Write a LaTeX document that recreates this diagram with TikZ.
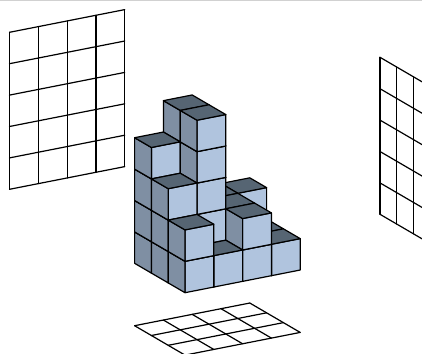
\documentclass[tikz,border=0pt]{standalone}
\usepackage{tikz}
\definecolor{fc}{HTML}{B0C4DE}
\definecolor{lc}{HTML}{7F8FA3}
\definecolor{tc}{HTML}{566573}
\tikzset{
  iso/.style={x={(28.8pt,5.67pt)},y={(-16.8pt,9.8pt)},z={(0pt,31.4pt)}},
  edge/.style={draw=black,line width=1.2pt,line join=round},
  gridline/.style={draw=black,line width=1.2pt,line cap=round}
}
\newcommand{\isocube}[3]{%
  \pgfmathsetmacro{\ax}{#1+1}\pgfmathsetmacro{\bx}{#2+1}\pgfmathsetmacro{\cx}{#3+1}%
  \filldraw[edge,fill=fc] (#1,#2,#3)--(\ax,#2,#3)--(\ax,#2,\cx)--(#1,#2,\cx)--cycle;
  \filldraw[edge,fill=lc] (#1,#2,#3)--(#1,\bx,#3)--(#1,\bx,\cx)--(#1,#2,\cx)--cycle;
  \filldraw[edge,fill=tc] (#1,#2,\cx)--(\ax,#2,\cx)--(\ax,\bx,\cx)--(#1,\bx,\cx)--cycle;
}
\begin{document}
\begin{tikzpicture}
\useasboundingbox (0pt,-353pt) rectangle (422pt,0pt);
\clip (0pt,-353pt) rectangle (422pt,0pt);
\fill[white] (0pt,-353pt) rectangle (422pt,0pt);
\fill[black!18] (0pt,-1pt) rectangle (422pt,0pt);
% left wall
\begin{scope}[shift={(9.5pt,-189.3pt)},iso]
  \foreach \i in {0,...,4} \draw[gridline] (\i,0,0)--(\i,0,5);
  \foreach \k in {0,...,5} \draw[gridline] (0,0,\k)--(4,0,\k);
\end{scope}
% right wall
\begin{scope}[shift={(380pt,-214.3pt)},iso]
  \foreach \j in {0,...,3} \draw[gridline] (0,-\j,0)--(0,-\j,5);
  \foreach \k in {0,...,5} \draw[gridline] (0,0,\k)--(0,-3,\k);
\end{scope}
% floor
\begin{scope}[shift={(185pt,-355.1pt)},iso]
  \foreach \i in {0,...,4} \draw[gridline] (\i,0,0)--(\i,3,0);
  \foreach \j in {0,...,3} \draw[gridline] (0,\j,0)--(4,\j,0);
\end{scope}
% cubes
\begin{scope}[shift={(185pt,-292.7pt)},iso]
  \foreach \b/\row in {2/{2,2,5,4},1/{1,2,5,3},0/{1,2,1,2}} {
    \foreach \a/\h in {3/0,2/1,1/2,0/3} {
      \pgfmathtruncatemacro{\hh}{{\row}[\h]}
      \pgfmathtruncatemacro{\top}{\hh-1}
      \foreach \c in {0,...,\top} { \isocube{\a}{\b}{\c} }
    }
  }
\end{scope}
\end{tikzpicture}
\end{document}
